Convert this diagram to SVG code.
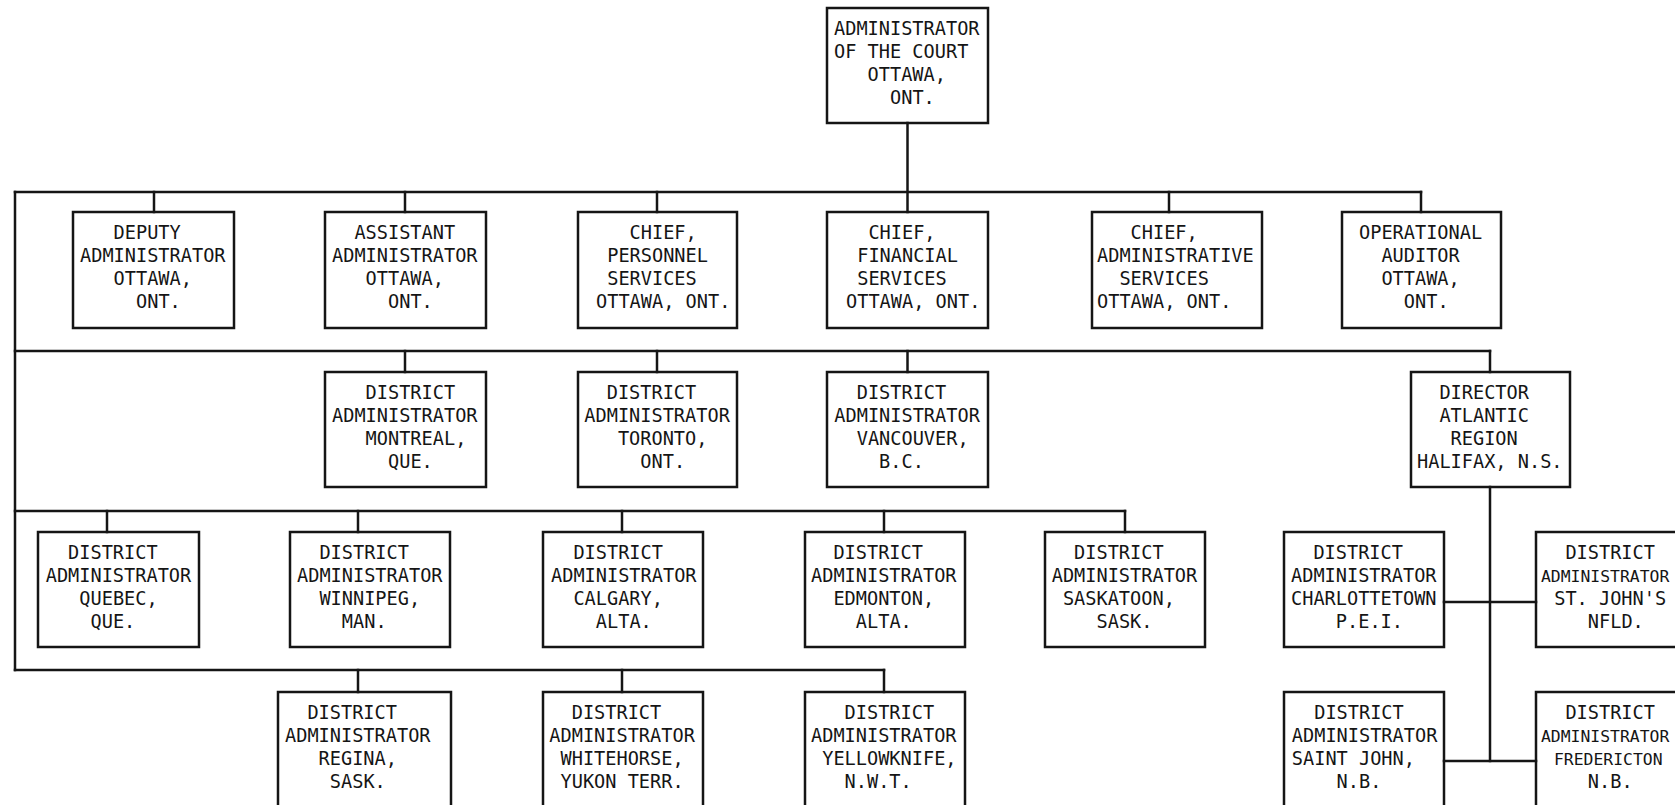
<svg xmlns="http://www.w3.org/2000/svg" width="1675" height="805" viewBox="0 0 1675 805">
<style>
.bg{fill:#ffffff}
.box{fill:none;stroke:#151515;stroke-width:2.5}
.conn line{stroke:#151515;stroke-width:2.5;stroke-linecap:square}
text{font-family:"DejaVu Sans Mono","Liberation Mono",monospace;font-size:18.6px;fill:#151515}
text.edge{font-size:16.4px}
</style>
<rect class="bg" x="0" y="0" width="1675" height="805"/>
<g id="connectors" class="conn">
<line x1="907.5" y1="123" x2="907.5" y2="212"/>
<line x1="15" y1="192" x2="1421" y2="192"/>
<line x1="15" y1="192" x2="15" y2="670"/>
<line x1="154" y1="192" x2="154" y2="212"/>
<line x1="405" y1="192" x2="405" y2="212"/>
<line x1="657" y1="192" x2="657" y2="212"/>
<line x1="1169" y1="192" x2="1169" y2="212"/>
<line x1="1421" y1="192" x2="1421" y2="212"/>
<line x1="15" y1="351" x2="1490" y2="351"/>
<line x1="405" y1="351" x2="405" y2="372"/>
<line x1="657" y1="351" x2="657" y2="372"/>
<line x1="907.5" y1="351" x2="907.5" y2="372"/>
<line x1="1490" y1="351" x2="1490" y2="372"/>
<line x1="15" y1="511" x2="1125" y2="511"/>
<line x1="107" y1="511" x2="107" y2="532"/>
<line x1="358" y1="511" x2="358" y2="532"/>
<line x1="622" y1="511" x2="622" y2="532"/>
<line x1="884" y1="511" x2="884" y2="532"/>
<line x1="1125" y1="511" x2="1125" y2="532"/>
<line x1="15" y1="670" x2="884" y2="670"/>
<line x1="358" y1="670" x2="358" y2="692"/>
<line x1="622" y1="670" x2="622" y2="692"/>
<line x1="884" y1="670" x2="884" y2="692"/>
<line x1="1490" y1="487" x2="1490" y2="761"/>
<line x1="1444" y1="602" x2="1536" y2="602"/>
<line x1="1444" y1="761" x2="1536" y2="761"/>
</g>
<g id="admin">
<rect class="box" x="827" y="8" width="161" height="115"/>
<text x="834" y="35">ADMINISTRATOR</text>
<text x="834" y="58">OF THE COURT</text>
<text x="867.6" y="81">OTTAWA,</text>
<text x="890" y="104">ONT.</text>
</g>
<g id="deputy">
<rect class="box" x="73" y="212" width="161" height="116"/>
<text x="113.6" y="239">DEPUTY</text>
<text x="80" y="262">ADMINISTRATOR</text>
<text x="113.6" y="285">OTTAWA,</text>
<text x="136" y="308">ONT.</text>
</g>
<g id="assistant">
<rect class="box" x="325" y="212" width="161" height="116"/>
<text x="354.4" y="239">ASSISTANT</text>
<text x="332" y="262">ADMINISTRATOR</text>
<text x="365.6" y="285">OTTAWA,</text>
<text x="388" y="308">ONT.</text>
</g>
<g id="personnel">
<rect class="box" x="578" y="212" width="159" height="116"/>
<text x="629.6" y="239">CHIEF,</text>
<text x="607.2" y="262">PERSONNEL</text>
<text x="607.2" y="285">SERVICES</text>
<text x="596" y="308">OTTAWA, ONT.</text>
</g>
<g id="financial">
<rect class="box" x="827" y="212" width="161" height="116"/>
<text x="868.4" y="239">CHIEF,</text>
<text x="857.2" y="262">FINANCIAL</text>
<text x="857.2" y="285">SERVICES</text>
<text x="846" y="308">OTTAWA, ONT.</text>
</g>
<g id="adminservices">
<rect class="box" x="1092" y="212" width="170" height="116"/>
<text x="1130.6" y="239">CHIEF,</text>
<text x="1097" y="262">ADMINISTRATIVE</text>
<text x="1119.4" y="285">SERVICES</text>
<text x="1097" y="308">OTTAWA, ONT.</text>
</g>
<g id="operational">
<rect class="box" x="1342" y="212" width="159" height="116"/>
<text x="1359" y="239">OPERATIONAL</text>
<text x="1381.4" y="262">AUDITOR</text>
<text x="1381.4" y="285">OTTAWA,</text>
<text x="1403.8" y="308">ONT.</text>
</g>
<g id="montreal">
<rect class="box" x="325" y="372" width="161" height="115"/>
<text x="365.6" y="399">DISTRICT</text>
<text x="332" y="422">ADMINISTRATOR</text>
<text x="365.6" y="445">MONTREAL,</text>
<text x="388" y="468">QUE.</text>
</g>
<g id="toronto">
<rect class="box" x="578" y="372" width="159" height="115"/>
<text x="606.7" y="399">DISTRICT</text>
<text x="584.3" y="422">ADMINISTRATOR</text>
<text x="617.9" y="445">TORONTO,</text>
<text x="640.3" y="468">ONT.</text>
</g>
<g id="vancouver">
<rect class="box" x="827" y="372" width="161" height="115"/>
<text x="856.7" y="399">DISTRICT</text>
<text x="834.3" y="422">ADMINISTRATOR</text>
<text x="856.7" y="445">VANCOUVER,</text>
<text x="879.1" y="468">B.C.</text>
</g>
<g id="halifax">
<rect class="box" x="1411" y="372" width="159" height="115"/>
<text x="1439.4" y="399">DIRECTOR</text>
<text x="1439.4" y="422">ATLANTIC</text>
<text x="1450.6" y="445">REGION</text>
<text x="1417" y="468">HALIFAX, N.S.</text>
</g>
<g id="quebec">
<rect class="box" x="38" y="532" width="161" height="115"/>
<text x="68.1" y="559">DISTRICT</text>
<text x="45.7" y="582">ADMINISTRATOR</text>
<text x="79.3" y="605">QUEBEC,</text>
<text x="90.5" y="628">QUE.</text>
</g>
<g id="winnipeg">
<rect class="box" x="290" y="532" width="160" height="115"/>
<text x="319.4" y="559">DISTRICT</text>
<text x="297" y="582">ADMINISTRATOR</text>
<text x="319.4" y="605">WINNIPEG,</text>
<text x="341.8" y="628">MAN.</text>
</g>
<g id="calgary">
<rect class="box" x="543" y="532" width="160" height="115"/>
<text x="573.4" y="559">DISTRICT</text>
<text x="551" y="582">ADMINISTRATOR</text>
<text x="573.4" y="605">CALGARY,</text>
<text x="595.8" y="628">ALTA.</text>
</g>
<g id="edmonton">
<rect class="box" x="805" y="532" width="160" height="115"/>
<text x="833.4" y="559">DISTRICT</text>
<text x="811" y="582">ADMINISTRATOR</text>
<text x="833.4" y="605">EDMONTON,</text>
<text x="855.8" y="628">ALTA.</text>
</g>
<g id="saskatoon">
<rect class="box" x="1045" y="532" width="160" height="115"/>
<text x="1074.1" y="559">DISTRICT</text>
<text x="1051.7" y="582">ADMINISTRATOR</text>
<text x="1062.9" y="605">SASKATOON,</text>
<text x="1096.5" y="628">SASK.</text>
</g>
<g id="charlottetown">
<rect class="box" x="1284" y="532" width="160" height="115"/>
<text x="1313.4" y="559">DISTRICT</text>
<text x="1291" y="582">ADMINISTRATOR</text>
<text x="1291" y="605">CHARLOTTETOWN</text>
<text x="1335.8" y="628">P.E.I.</text>
</g>
<g id="stjohns">
<rect class="box" x="1536" y="532" width="164" height="115"/>
<text x="1565.4" y="559">DISTRICT</text>
<text class="edge" x="1541" y="582">ADMINISTRATOR</text>
<text x="1554.2" y="605">ST. JOHN'S</text>
<text x="1587.8" y="628">NFLD.</text>
</g>
<g id="regina">
<rect class="box" x="278" y="692" width="173" height="125"/>
<text x="307.4" y="719">DISTRICT</text>
<text x="285" y="742">ADMINISTRATOR</text>
<text x="318.6" y="765">REGINA,</text>
<text x="329.8" y="788">SASK.</text>
</g>
<g id="whitehorse">
<rect class="box" x="543" y="692" width="160" height="125"/>
<text x="571.7" y="719">DISTRICT</text>
<text x="549.3" y="742">ADMINISTRATOR</text>
<text x="560.5" y="765">WHITEHORSE,</text>
<text x="560.5" y="788">YUKON TERR.</text>
</g>
<g id="yellowknife">
<rect class="box" x="805" y="692" width="160" height="125"/>
<text x="844.6" y="719">DISTRICT</text>
<text x="811" y="742">ADMINISTRATOR</text>
<text x="822.2" y="765">YELLOWKNIFE,</text>
<text x="844.6" y="788">N.W.T.</text>
</g>
<g id="saintjohn">
<rect class="box" x="1284" y="692" width="160" height="125"/>
<text x="1314.2" y="719">DISTRICT</text>
<text x="1291.8" y="742">ADMINISTRATOR</text>
<text x="1291.8" y="765">SAINT JOHN,</text>
<text x="1336.6" y="788">N.B.</text>
</g>
<g id="fredericton">
<rect class="box" x="1536" y="692" width="164" height="125"/>
<text x="1565.4" y="719">DISTRICT</text>
<text class="edge" x="1541" y="742">ADMINISTRATOR</text>
<text class="edge" x="1554" y="765">FREDERICTON</text>
<text x="1587.8" y="788">N.B.</text>
</g>
</svg>
